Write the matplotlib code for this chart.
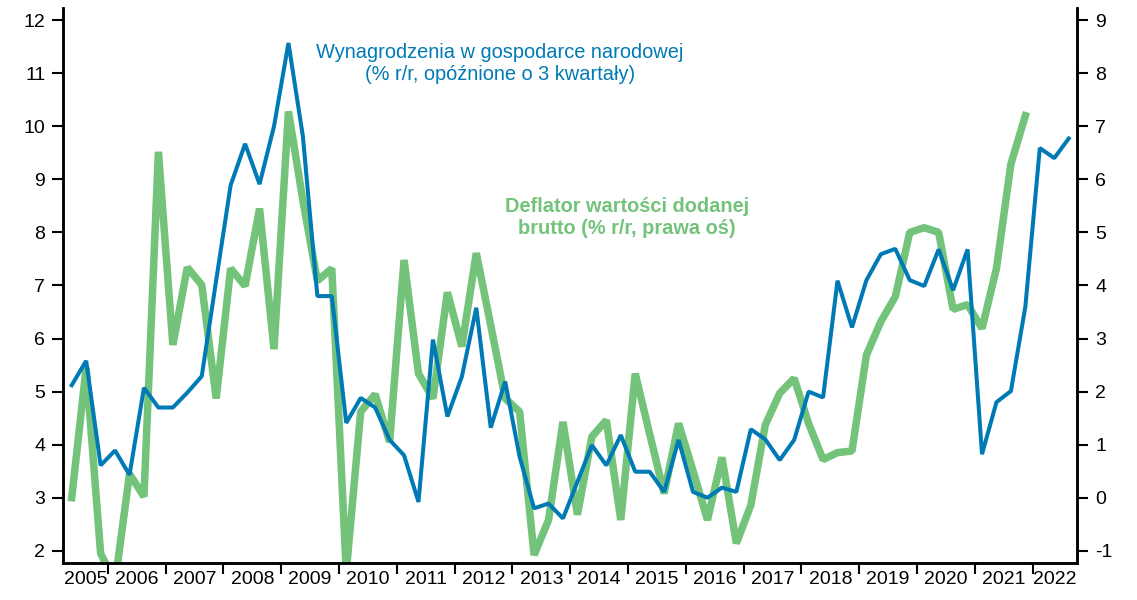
import matplotlib
matplotlib.use("Agg")
import matplotlib.pyplot as plt
import numpy as np

plt.rcParams['font.family'] = ['Liberation Sans', 'DejaVu Sans']
plt.rcParams['axes.unicode_minus'] = False

# quarterly data, first point 2005 Q2
start_year = 2005
start_q = 2

# wages in national economy, % y/y, lagged 3 quarters (left axis)
wages = [5.12, 5.58, 3.61, 3.89, 3.43, 5.07, 4.70, 4.70, 4.98, 5.29,
         7.10, 8.89, 9.67, 8.91, 10.0, 11.57, 9.81, 6.80, 6.80, 4.41,
         4.88, 4.70, 4.09, 3.80, 2.92, 5.98, 4.53, 5.28, 6.58, 4.32,
         5.19, 3.77, 2.80, 2.89, 2.61, 3.30, 3.99, 3.61, 4.18, 3.49,
         3.49, 3.11, 4.09, 3.11, 3.00, 3.19, 3.11, 4.29, 4.10, 3.71,
         4.09, 5.00, 4.89, 7.09, 6.21, 7.10, 7.59, 7.69, 7.10, 6.99,
         7.68, 6.91, 7.68, 3.82, 4.80, 5.01, 6.60, 9.59, 9.40, 9.77]

# gross value added deflator, % y/y (right axis)
deflator = [0.00, 2.45, -1.05, -1.60, 0.45, 0.02, 6.52, 2.88, 4.34, 4.01,
            1.87, 4.32, 3.99, 5.45, 2.80, 7.28, 5.60, 4.09, 4.32, -1.40,
            1.62, 1.95, 1.05, 4.48, 2.34, 1.87, 3.87, 2.85, 4.61, 3.25,
            1.87, 1.62, -1.08, -0.42, 1.43, -0.32, 1.15, 1.46, -0.42, 2.34,
            1.20, 0.08, 1.40, 0.51, -0.42, 0.76, -0.86, -0.14, 1.37, 1.97,
            2.25, 1.40, 0.72, 0.85, 0.88, 2.69, 3.32, 3.79, 5.00, 5.09,
            5.00, 3.55, 3.64, 3.19, 4.32, 6.29, 7.20]

years = list(range(2005, 2023))

blue = '#007ab5'
green = '#73c37b'

x0 = start_year + (start_q - 0.5) / 4
xw = x0 + np.arange(len(wages)) / 4
xd = x0 + np.arange(len(deflator)) / 4

fig = plt.figure(figsize=(11.37, 6.0), dpi=100)
ax = fig.add_axes([0.0557, 0.0617, 0.8916, 0.925])
ax2 = ax.twinx()
ax.set_zorder(ax2.get_zorder() + 1)
ax.patch.set_visible(False)

ax2.plot(xd, deflator, color=green, lw=5.4, solid_joinstyle='bevel')
ax.plot(xw, wages, color=blue, lw=2.9, solid_joinstyle='bevel')

xmin, xmax = 2005.23, 2022.77
ax.set_xlim(xmin, xmax)
ax.set_ylim(1.77, 12.23)
ax2.set_ylim(-1.23, 9.23)
ax.set_yticks(range(2, 13))
ax2.set_yticks(range(-1, 10))

# year boundaries as ticks, labels centred in each (visible) year
ax.set_xticks(years[1:])
ax.set_xticklabels([])
centers = [(max(y, xmin) + min(y + 1, xmax)) / 2 for y in years]
ax.set_xticks(centers, minor=True)
ax.set_xticklabels([str(y) for y in years], minor=True)
ax.tick_params(axis='x', which='minor', length=0, pad=6, labelsize=14)
ax.tick_params(axis='x', which='major', length=8, width=1.5, direction='out')
ax.tick_params(axis='y', length=8, width=1.5, labelsize=14, pad=5)
ax2.tick_params(axis='y', length=8, width=1.5, labelsize=14, pad=5)

for a in (ax, ax2):
    a.spines['top'].set_visible(False)
    for s in ('left', 'right', 'bottom'):
        a.spines[s].set_linewidth(1.8)

ax.text(2012.785, 11.18, 'Wynagrodzenia w gospodarce narodowej\n(% r/r, opóźnione o 3 kwartały)',
        color=blue, fontsize=14.4, ha='center', va='center', linespacing=1.2)
ax.text(2014.98, 8.29, 'Deflator wartości dodanej\nbrutto (% r/r, prawa oś)',
        color=green, fontsize=14.4, fontweight='bold', ha='center', va='center', linespacing=1.2)

fig.savefig('out.png', dpi=100)
